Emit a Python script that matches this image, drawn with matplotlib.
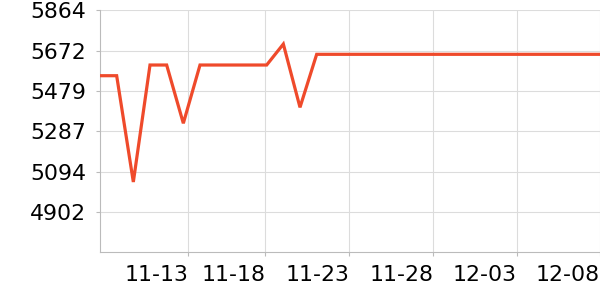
import matplotlib.pyplot as plt
import numpy as np

# daily values, 11-08 .. 12-08
values = [5552, 5552, 5045, 5603, 5603, 5325, 5603, 5603, 5603, 5603,
          5603, 5703, 5401, 5654, 5654, 5654, 5654, 5654, 5654, 5654,
          5654, 5654, 5654, 5654, 5654, 5654, 5654, 5654, 5654, 5654,
          5654]
x_ticks = [5.3, 9.92, 14.95, 20, 25, 30]
x_labels = ["11-13", "11-18", "11-23", "11-28", "12-03", "12-08"]
y_min, y_max = 4709.6, 5864.0
y_ticks = [4902.0, 5094.4, 5286.8, 5479.2, 5671.6, 5864.0]

fig = plt.figure(figsize=(6, 3), dpi=100)
ax = fig.add_axes([100 / 600, 47.7 / 300, 500 / 600, 242 / 300])

ax.plot(np.arange(len(values)), values, color="#ef4a2b", linewidth=2.3,
        solid_joinstyle="miter", zorder=3)

ax.set_xlim(0, len(values) - 1)
ax.set_ylim(y_min, y_max)
ax.set_xticks(x_ticks)
ax.set_xticklabels(x_labels, ha="right")
ax.set_yticks(y_ticks)
ax.set_yticklabels([f"{v:.0f}" for v in y_ticks])

ax.grid(True, color="#dcdcdc", linewidth=0.8)
ax.set_axisbelow(True)
for s in ["top", "right"]:
    ax.spines[s].set_visible(False)
for s in ["left", "bottom"]:
    ax.spines[s].set_color("#bbbbbb")
    ax.spines[s].set_linewidth(0.8)
ax.tick_params(axis="both", colors="#bbbbbb", labelcolor="black",
               labelsize=15.8, length=3, width=0.8)
ax.tick_params(axis="y", pad=7)
ax.tick_params(axis="x", pad=6)

fig.savefig("out.png", dpi=100)
